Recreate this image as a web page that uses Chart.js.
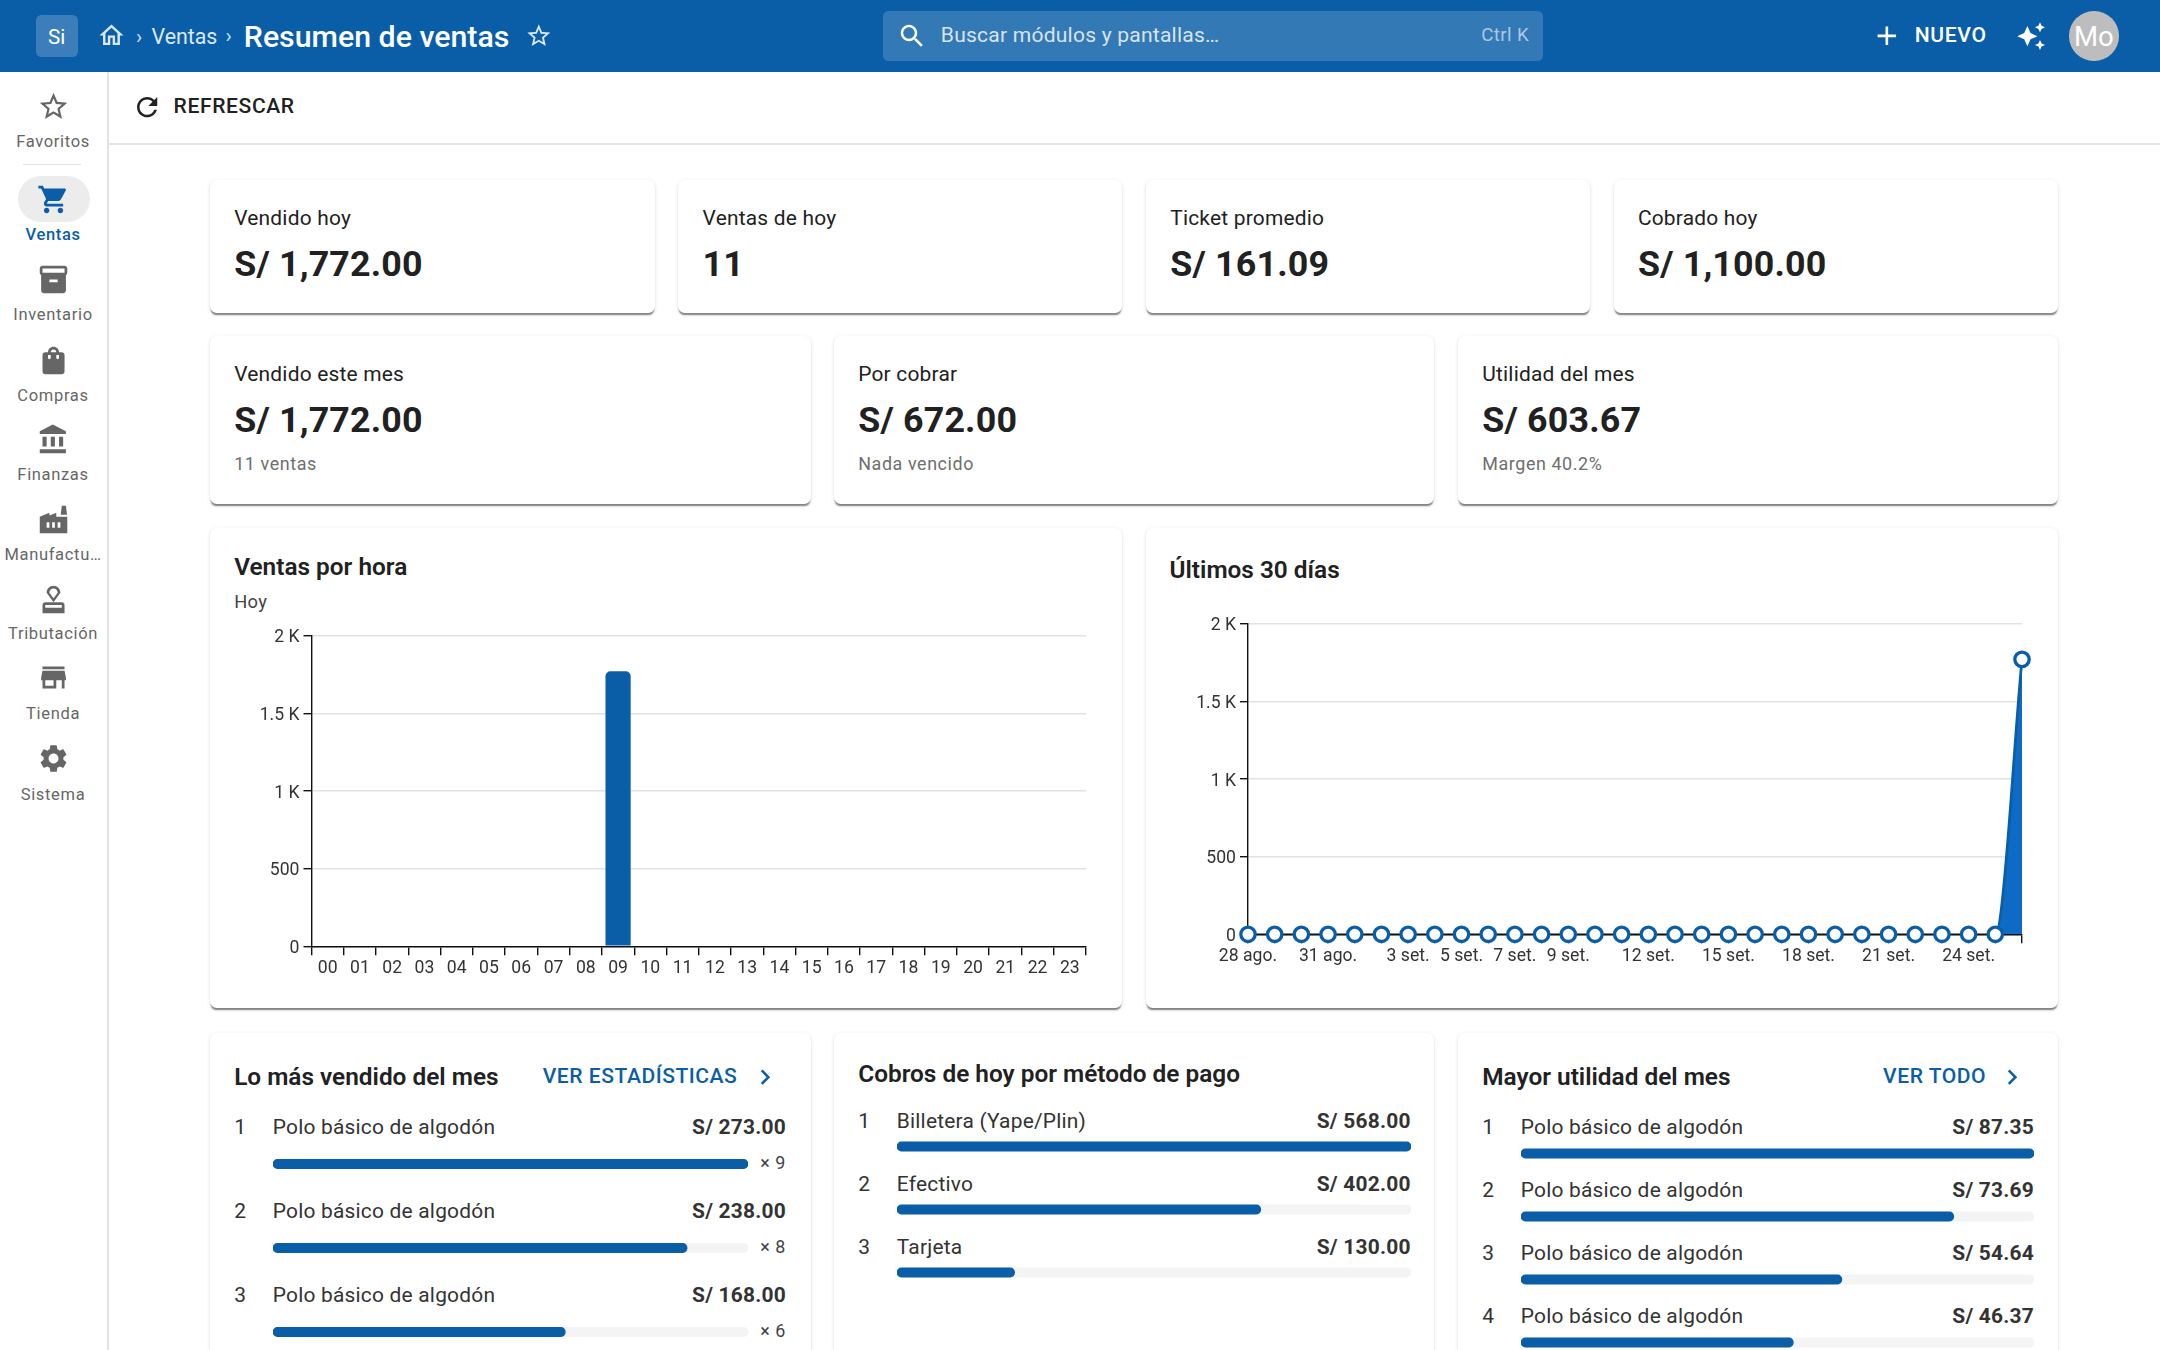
<!DOCTYPE html>
<html lang="es"><head><meta charset="utf-8">
<script src="https://cdn.jsdelivr.net/npm/chart.js@4"></script>
<style>
html,body{margin:0;padding:0;background:#fff;width:2160px;height:1350px;overflow:hidden;font-family:Roboto,sans-serif}
#ui{position:absolute;left:0;top:0;width:1568px;height:980px;zoom:1.37755;overflow:hidden;color:#212121}
.a{position:absolute}
.t{position:absolute;white-space:nowrap;transform:translateY(-50%);line-height:1.2}
.r{transform:translate(-100%,-50%)}
.c{transform:translate(-50%,-50%)}
.card{position:absolute;background:#fff;border-radius:5px;box-shadow:0 2px 1px -1px rgba(0,0,0,.38),0 1px 1px 0 rgba(0,0,0,.1),0 1px 3px 0 rgba(0,0,0,.1)}
canvas{position:absolute;display:block}
</style></head><body>
<div id="ui"></div>
<canvas id="hourChart" style="left:230px;top:610px;width:880px;height:390px" width="880" height="390"></canvas>
<canvas id="daysChart" style="left:1160px;top:600px;width:900px;height:400px" width="900" height="400"></canvas>
<canvas id="topBars" style="left:273px;top:1122px;width:475px;height:252px" width="475" height="252"></canvas>
<canvas id="payBars" style="left:897px;top:1115px;width:514px;height:189px" width="514" height="189"></canvas>
<canvas id="profitBars" style="left:1521px;top:1121.5px;width:513px;height:252px" width="513" height="252"></canvas>
<script>
/* ---------- data ---------- */
const hourLabels=['00','01','02','03','04','05','06','07','08','09','10','11','12','13','14','15','16','17','18','19','20','21','22','23'];
const hourValues=[0,0,0,0,0,0,0,0,0,1772,0,0,0,0,0,0,0,0,0,0,0,0,0,0];
const dayLabels=['28 ago.','29 ago.','30 ago.','31 ago.','1 set.','2 set.','3 set.','4 set.','5 set.','6 set.','7 set.','8 set.','9 set.','10 set.','11 set.','12 set.','13 set.','14 set.','15 set.','16 set.','17 set.','18 set.','19 set.','20 set.','21 set.','22 set.','23 set.','24 set.','25 set.','26 set.'];
const dayValues=[0,0,0,0,0,0,0,0,0,0,0,0,0,0,0,0,0,0,0,0,0,0,0,0,0,0,0,0,0,1772];
const dayShownLabels=['28 ago.','31 ago.','3 set.','5 set.','7 set.','9 set.','12 set.','15 set.','18 set.','21 set.','24 set.'];
const topNames=['Polo básico de algodón','Polo básico de algodón','Polo básico de algodón'];
const topValues=[273,238,168];
const topTrack=[273,273,273];
const topQty=['× 9','× 8','× 6'];
const payNames=['Billetera (Yape/Plin)','Efectivo','Tarjeta'];
const payValues=[568,402,130];
const payTrack=[568,568,568];
const profitNames=['Polo básico de algodón','Polo básico de algodón','Polo básico de algodón','Polo básico de algodón'];
const profitValues=[87.35,73.69,54.64,46.37];
const profitTrack=[87.35,87.35,87.35,87.35];
const kpiRow1=[['Vendido hoy','S/ 1,772.00'],['Ventas de hoy','11'],['Ticket promedio','S/ 161.09'],['Cobrado hoy','S/ 1,100.00']];
const kpiRow2=[['Vendido este mes','S/ 1,772.00','11 ventas'],['Por cobrar','S/ 672.00','Nada vencido'],['Utilidad del mes','S/ 603.67','Margen 40.2%']];

/* ---------- page furniture ---------- */
const BLUE='#0a5ea8',INK='#212121',GREY='#666666';
const P={star:"M22 9.24l-7.19-.62L12 2 9.19 8.63 2 9.24l5.46 4.73L5.82 21 12 17.27 18.18 21l-1.63-7.03L22 9.24zM12 15.4l-3.76 2.27 1-4.28-3.32-2.88 4.38-.38L12 6.1l1.71 4.04 4.38.38-3.32 2.88 1 4.28L12 15.4z",
cart:"M7 18c-1.1 0-1.99.9-1.99 2S5.9 22 7 22s2-.9 2-2-.9-2-2-2zM1 2v2h2l3.6 7.59-1.35 2.45c-.16.28-.25.61-.25.96 0 1.1.9 2 2 2h12v-2H7.42c-.14 0-.25-.11-.25-.25l.03-.12.9-1.63h7.45c.75 0 1.41-.41 1.75-1.03l3.58-6.49c.08-.14.12-.31.12-.48 0-.55-.45-1-1-1H5.21l-.94-2H1zm16 16c-1.1 0-1.99.9-1.99 2s.89 2 1.99 2 2-.9 2-2-.9-2-2-2z",
box:"M20 2H4c-1 0-2 .9-2 2v3.01c0 .72.43 1.34 1 1.69V20c0 1.1 1.1 2 2 2h14c.9 0 2-.9 2-2V8.7c.57-.35 1-.97 1-1.69V4c0-1.1-1-2-2-2zm-5 12H9v-2h6v2zm5-7H4V4l16-.02V7z",
bag:"M18 6h-2c0-2.21-1.79-4-4-4S8 3.79 8 6H6c-1.1 0-2 .9-2 2v12c0 1.1.9 2 2 2h12c1.1 0 2-.9 2-2V8c0-1.1-.9-2-2-2zm-8 4c0 .55-.45 1-1 1s-1-.45-1-1V8h2v2zm2-6c1.1 0 2 .9 2 2h-4c0-1.1.9-2 2-2zm4 6c0 .55-.45 1-1 1s-1-.45-1-1V8h2v2z",
bank:"M4 10v7h3v-7H4zm6 0v7h3v-7h-3zM2 22h19v-3H2v3zm14-12v7h3v-7h-3zm-4.5-9L2 6v2h19V6l-9.5-5z",
factory:"M22 10v12H2V10l7-3v2l5-2v3h8zm-4.8-1.5L18 2h3l.8 6.5h-4.6zM11 18h2v-4h-2v4zm-4 0h2v-4H7v4zm10-4h-2v4h2v-4z",
stamp:"M4 16v6h16v-6c0-1.1-.9-2-2-2H6c-1.1 0-2 .9-2 2zm14 2H6v-2h12v2zM12 2C9.24 2 7 4.24 7 7l5 7 5-7c0-2.76-2.24-5-5-5zm0 9L9 7c0-1.66 1.34-3 3-3s3 1.34 3 3l-3 4z",
store:"M20 4H4v2h16V4zm1 10v-2l-1-5H4l-1 5v2h1v6h10v-6h4v6h2v-6h1zm-9 4H6v-4h6v4z",
gear:"M19.14 12.94c.04-.3.06-.61.06-.94 0-.32-.02-.64-.07-.94l2.03-1.58c.18-.14.23-.41.12-.61l-1.92-3.32c-.12-.22-.37-.29-.59-.22l-2.39.96c-.5-.38-1.03-.7-1.62-.94l-.36-2.54c-.04-.24-.24-.41-.48-.41h-3.84c-.24 0-.43.17-.47.41l-.36 2.54c-.59.24-1.13.57-1.62.94l-2.39-.96c-.22-.08-.47 0-.59.22L2.74 8.87c-.12.21-.08.47.12.61l2.03 1.58c-.05.3-.09.63-.09.94s.02.64.07.94l-2.03 1.58c-.18.14-.23.41-.12.61l1.92 3.32c.12.22.37.29.59.22l2.39-.96c.5.38 1.03.7 1.62.94l.36 2.54c.05.24.24.41.48.41h3.84c.24 0 .44-.17.47-.41l.36-2.54c.59-.24 1.13-.56 1.62-.94l2.39.96c.22.08.47 0 .59-.22l1.92-3.32c.12-.22.07-.47-.12-.61l-2.01-1.58zM12 15.6c-1.98 0-3.6-1.62-3.6-3.6s1.62-3.6 3.6-3.6 3.6 1.62 3.6 3.6-1.62 3.6-3.6 3.6z",
refresh:"M17.65 6.35C16.2 4.9 14.21 4 12 4c-4.42 0-7.99 3.58-7.99 8s3.57 8 7.99 8c3.73 0 6.84-2.55 7.73-6h-2.08c-.82 2.33-3.04 4-5.65 4-3.31 0-6-2.69-6-6s2.69-6 6-6c1.66 0 3.14.69 4.22 1.78L13 11h7V4l-2.35 2.35z",
home:"M12 5.69l5 4.5V18h-2v-6H9v6H7v-7.81l5-4.5M12 3L2 12h3v8h6v-6h2v6h6v-8h3L12 3z",
search:"M15.5 14h-.79l-.28-.27C15.41 12.59 16 11.11 16 9.5 16 5.91 13.09 3 9.5 3S3 5.91 3 9.5 5.91 16 9.5 16c1.61 0 3.09-.59 4.23-1.57l.27.28v.79l5 4.99L20.49 19l-4.99-5zm-6 0C7.01 14 5 11.99 5 9.5S7.01 5 9.5 5 14 7.01 14 9.5 11.99 14 9.5 14z",
add:"M19 13h-6v6h-2v-6H5v-2h6V5h2v6h6v2z",
spark:"M19 9l1.25-2.75L23 5l-2.75-1.25L19 1l-1.25 2.75L15 5l2.75 1.25L19 9zm-7.5.5L9 4 6.5 9.5 1 12l5.5 2.5L9 20l2.5-5.5L17 12l-5.5-2.5zM19 15l-1.25 2.75L15 19l2.75 1.25L19 23l1.25-2.75L23 19l-2.75-1.25L19 15z",
chev:"M10 6L8.59 7.41 13.17 12l-4.58 4.59L10 18l6-6z"};
const ui=document.getElementById('ui');
function box(x,y,w,h,css,cls){const d=document.createElement('div');d.className=cls||'a';d.style.cssText=`left:${x}px;top:${y}px;width:${w}px;height:${h}px;${css||''}`;ui.appendChild(d);return d}
function txt(x,y,s,css,align){const d=document.createElement('div');d.className='t'+(align?' '+align:'');d.style.cssText=`left:${x}px;top:${y}px;${css||''}`;d.textContent=s;ui.appendChild(d);return d}
function ico(cx,cy,size,name,color){const d=document.createElement('div');d.className='a';d.style.cssText=`left:${cx-size/2}px;top:${cy-size/2}px;width:${size}px;height:${size}px`;d.innerHTML=`<svg viewBox="0 0 24 24" width="${size}" height="${size}" style="display:block"><path fill="${color}" d="${P[name]}"/></svg>`;ui.appendChild(d)}
/* header */
box(0,0,1568,52,`background:${BLUE}`);
box(26,11,30.5,30.5,'background:rgba(255,255,255,.2);border-radius:4px');
txt(41.2,27,'Si','color:#fff;font-size:15px;font-weight:400','c');
ico(81,26,21,'home','#dbe8f4');
txt(101,27,'›','color:#cfe0f0;font-size:15px','c');
txt(110,27,'Ventas','color:#dbe8f4;font-size:15.5px');
txt(166,26,'›','color:#cfe0f0;font-size:15px','c');
txt(177,27,'Resumen de ventas','color:#fff;font-size:22px;font-weight:500');
ico(391,26,20,'star','#dbe8f4');
box(641,8,479,36,'background:rgba(255,255,255,.17);border-radius:4px');
ico(662.5,26,22,'search','#fff');
txt(683,25.5,'Buscar módulos y pantallas…','color:rgba(255,255,255,.82);font-size:15.3px;letter-spacing:.01em');
txt(1110,25.5,'Ctrl K','color:rgba(255,255,255,.6);font-size:13.6px;letter-spacing:.02em','r');
ico(1369.5,26,23,'add','#fff');
txt(1390,25.5,'NUEVO','color:#fff;font-size:15.3px;font-weight:500;letter-spacing:.03em');
ico(1474.5,26,22,'spark','#fff');
box(1502,8,36,36,'background:#bdbdbd;border-radius:50%');
txt(1520,26.5,'Mo','color:#fff;font-size:20px','c');
/* side rail */
box(78,52,1,928,'background:#e2e2e2');
box(17,119,42,1,'background:#e0e0e0');
box(13,128,52,33,'background:#ececec;border-radius:17px');
const railLabels=[['star','Favoritos',77,102.8],['cart','Ventas',145,170.8],['box','Inventario',203,228.8],['bag','Compras',262,287.8],['bank','Finanzas',319,344.8],['factory','Manufactu…',377,402.8],['stamp','Tributación',435,460.2],['store','Tienda',492,518],['gear','Sistema',551,577]];
railLabels.forEach(([ic,l,iy,ly])=>{const on=l==='Ventas';
  ico(39,iy,24,ic,on?BLUE:GREY);
  txt(38.5,ly,l,`font-size:12px;letter-spacing:.04em;color:${on?BLUE:GREY};font-weight:${on?500:400}`,'c');});
/* toolbar */
box(79,104,1489,1,'background:#e4e4e4');
ico(107,78,22,'refresh','#212121');
txt(126,77,'REFRESCAR','font-size:15.3px;font-weight:500;letter-spacing:.029em;color:#212121');
/* cards */
[[152.4,131,323,96],[492,131,322.4,96],[832,131,322.4,96],[1171.4,131,322.6,96],
 [152.4,244,436,122],[605.2,244,436,122],[1058.2,244,436,122],
 [152.4,383,662,349],[832,383,662,349],
 [152.4,750,436,260],[605.2,750,436,260],[1058.2,750,436,260]].forEach(c=>box(c[0],c[1],c[2],c[3],'','card'));
const LBL='font-size:15.2px;letter-spacing:.01em;color:#212121';
const VAL='font-size:26px;font-weight:700;letter-spacing:.005em;color:#212121';
const SUB='font-size:13px;letter-spacing:.033em;color:#6e6e6e';
const H='font-size:17.7px;font-weight:600;color:#212121';
[170,510,849.5,1189].forEach((x,i)=>{txt(x,158.8,kpiRow1[i][0],LBL);txt(x,192,kpiRow1[i][1],VAL)});
[170,623,1076].forEach((x,i)=>{txt(x,272,kpiRow2[i][0],LBL);txt(x,305,kpiRow2[i][1],VAL);txt(x,336.5,kpiRow2[i][2],SUB)});
txt(170,411.5,'Ventas por hora',H);
txt(170,437,'Hoy','font-size:13.3px;letter-spacing:.02em;color:#444');
txt(849,413.5,'Últimos 30 días',H);
/* ranked lists */
const LINK=`font-size:15.3px;font-weight:500;letter-spacing:.025em;color:${BLUE}`;
const ITEM='font-size:15.2px;letter-spacing:.01em;color:#333';
const AMT='font-size:15.2px;font-weight:700;letter-spacing:.01em;color:#333';
txt(170,781.5,'Lo más vendido del mes',H);txt(394,781,'VER ESTADÍSTICAS',LINK);ico(555.5,782,22,'chev',BLUE);
topNames.forEach((n,i)=>{const y=818.5+61*i;txt(170,y,i+1,ITEM);txt(198,y,n,ITEM);txt(570.5,y,'S/ '+topValues[i].toFixed(2),AMT,'r');txt(570.5,y+25.5,topQty[i],'font-size:13px;color:#444;letter-spacing:.03em','r')});
txt(623,780,'Cobros de hoy por método de pago',H);
payNames.forEach((n,i)=>{const y=814.2+46*i;txt(623,y,i+1,ITEM);txt(651,y,n,ITEM);txt(1024,y,'S/ '+payValues[i].toFixed(2),AMT,'r')});
txt(1076,782,'Mayor utilidad del mes',H);txt(1367,781,'VER TODO',LINK);ico(1461,782,22,'chev',BLUE);
profitNames.forEach((n,i)=>{const y=818.5+45.8*i;txt(1076,y,i+1,ITEM);txt(1104,y,n,ITEM);txt(1476.5,y,'S/ '+profitValues[i].toFixed(2),AMT,'r')});

/* ---------- charts ---------- */
Chart.defaults.font.family='Roboto';
Chart.defaults.animation=false;
Chart.defaults.responsive=false;
Chart.defaults.devicePixelRatio=1;
const tickFont={size:17.6};
const TICKCOL='#333';
const fmtY=v=>v>=1000?(v/1000)+' K':String(v);
const yScale=w=>({min:0,max:2000,afterFit(s){s.width=w},
  border:{color:'#111',width:1.4},
  grid:{color:'#e2e2e2',lineWidth:1.4,tickColor:'#111',tickWidth:1.4,tickLength:8},
  ticks:{stepSize:500,padding:4,labelOffset:2,color:TICKCOL,font:tickFont,callback:fmtY}});
new Chart(document.getElementById('hourChart'),{type:'bar',
 data:{labels:hourLabels,datasets:[{data:hourValues,backgroundColor:BLUE,barPercentage:.78,categoryPercentage:1,borderRadius:{topLeft:5,topRight:5,bottomLeft:0,bottomRight:0},borderSkipped:'bottom'}]},
 options:{layout:{padding:{top:26,right:24,left:0,bottom:0}},plugins:{legend:{display:false},tooltip:{enabled:false}},
  scales:{y:yScale(81.5),
   x:{afterFit(s){s.height=53.7},border:{color:'#111',width:1.4},grid:{drawOnChartArea:false,color:'#111',lineWidth:1.4,tickLength:9},
      ticks:{padding:3,color:TICKCOL,font:tickFont,autoSkip:false,maxRotation:0}}}}});
new Chart(document.getElementById('daysChart'),{type:'line',
 data:{labels:dayLabels,datasets:[{data:dayValues,clip:false,borderColor:BLUE,borderWidth:2.7,backgroundColor:'#0d6bc6',fill:'origin',cubicInterpolationMode:'monotone',
   segment:{borderColor:c=>c.p0.parsed.y===0&&c.p1.parsed.y===0?'#111':undefined,borderWidth:c=>c.p0.parsed.y===0&&c.p1.parsed.y===0?1.6:undefined},
   pointRadius:7.2,pointBorderWidth:3.3,pointBackgroundColor:'#fff',pointBorderColor:BLUE}]},
 options:{layout:{padding:{top:24,right:38,left:0,bottom:0}},plugins:{legend:{display:false},tooltip:{enabled:false}},
  scales:{y:yScale(88),
   x:{afterFit(s){s.height=65.7},border:{color:'#111',width:1.4},grid:{drawOnChartArea:false,color:'#111',lineWidth:1.4,tickLength:9},
      ticks:{padding:3,color:TICKCOL,font:tickFont,autoSkip:false,maxRotation:0,
        callback(v){const l=dayLabels[v];return dayShownLabels.includes(l)?l:''}}}}}});
function rankBars(id,cats,vals,track){new Chart(document.getElementById(id),{type:'bar',
 data:{labels:cats,datasets:[
  {data:vals,backgroundColor:BLUE,order:0,grouped:false,barThickness:9.2,borderRadius:4.6,borderSkipped:false},
  {data:track,backgroundColor:'#f4f4f4',order:1,grouped:false,barThickness:9.2,borderRadius:4.6,borderSkipped:false}]},
 options:{indexAxis:'y',layout:{padding:0},plugins:{legend:{display:false},tooltip:{enabled:false}},
  scales:{x:{display:false,min:0,max:Math.max(...track)},y:{display:false}}}})}
rankBars('topBars',topNames.map((n,i)=>i+1),topValues,topTrack);
rankBars('payBars',payNames,payValues,payTrack);
rankBars('profitBars',profitNames.map((n,i)=>i+1),profitValues,profitTrack);
</script></body></html>
